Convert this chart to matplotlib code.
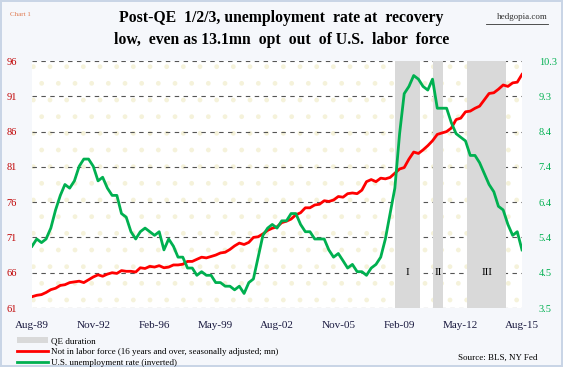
import numpy as np
import pandas as pd
import matplotlib
matplotlib.use("Agg")
import matplotlib.pyplot as plt
import matplotlib.dates as mdates
from matplotlib.patches import Rectangle, Patch
from matplotlib.lines import Line2D

# quarterly points, Aug-89 .. Aug-15 (Aug, Nov, Feb, May)
dates = pd.date_range("1989-08-01", "2015-08-01", freq="3MS")

not_in_lf = [62.6, 62.8,
             62.9, 63.2, 63.6, 63.8,
             64.2, 64.3, 64.6, 64.7,
             64.8, 64.6, 65.0, 65.4,
             65.7, 65.5, 65.8, 66.0,
             65.9, 66.3, 66.2, 66.2,
             66.1, 66.7, 66.6, 66.9,
             66.8, 67.0, 66.7, 66.8,
             67.1, 67.1, 67.2, 67.6,
             67.6, 67.9, 68.2, 68.1,
             68.3, 68.5, 68.8, 68.9,
             69.3, 69.8, 70.2, 70.0,
             70.3, 71.0, 71.1, 71.5,
             72.0, 72.3, 72.5, 73.1,
             73.3, 73.6, 74.2, 74.5,
             75.2, 75.2, 75.6, 75.7,
             76.2, 76.1, 76.3, 76.8,
             76.7, 77.2, 77.3, 77.2,
             77.7, 78.9, 79.2, 78.9,
             79.4, 79.3, 79.5, 80.1,
             80.7, 80.9, 82.1, 83.1,
             82.9, 83.4, 84.0, 84.7,
             85.6, 85.8, 86.0, 86.5,
             87.7, 87.9, 88.8, 88.9,
             89.3, 89.6, 90.5, 91.4,
             91.5, 92.0, 92.6, 92.4,
             92.9, 93.0, 94.1]

unemp = [5.2, 5.4,
         5.3, 5.4, 5.7, 6.2,
         6.6, 6.9, 6.8, 7.0,
         7.4, 7.6, 7.6, 7.4,
         7.0, 7.1, 6.8, 6.6,
         6.6, 6.1, 6.0, 5.6,
         5.4, 5.6, 5.7, 5.6,
         5.5, 5.6, 5.1, 5.4,
         5.2, 4.9, 4.9, 4.6,
         4.6, 4.4, 4.5, 4.4,
         4.4, 4.2, 4.2, 4.1,
         4.1, 4.0, 4.1, 3.9,
         4.2, 4.3, 4.9, 5.5,
         5.7, 5.8, 5.7, 5.9,
         5.9, 6.1, 6.1, 5.8,
         5.6, 5.6, 5.4, 5.4,
         5.4, 5.1, 4.9, 5.0,
         4.8, 4.6, 4.7, 4.5,
         4.5, 4.4, 4.6, 4.7,
         4.9, 5.4, 6.1, 6.8,
         8.3, 9.4, 9.6, 9.9,
         9.8, 9.6, 9.5, 9.8,
         9.0, 9.0, 9.0, 8.6,
         8.3, 8.2, 8.1, 7.7,
         7.7, 7.5, 7.2, 6.9,
         6.7, 6.3, 6.2, 5.8,
         5.5, 5.6, 5.1]

qe_start = ["2008-11-01", "2010-11-01", "2012-09-01"]
qe_end = ["2010-03-01", "2011-06-01", "2014-10-01"]
qe_names = ["I", "II", "III"]

left_ticks = [61, 66, 71, 76, 81, 86, 91, 96]
right_ticks = np.linspace(3.5, 10.3, 8)

RED = "#ff0000"
GREEN = "#00b050"
SERIF = "Liberation Serif"

fig = plt.figure(figsize=(5.63, 3.67), dpi=100, facecolor="#f5f7fb")
fig.patch.set_edgecolor("#c9d5e6")
fig.patch.set_linewidth(1.5)

ax = fig.add_axes([32 / 563, 59 / 367, 490 / 563, 247 / 367])
ax.set_facecolor("white")
ax.add_patch(Rectangle((0, 0), 1, 1, transform=ax.transAxes, facecolor="none",
                       hatch=".", edgecolor="#f5f2da", lw=0, zorder=0))

for s, e in zip(qe_start, qe_end):
    ax.axvspan(pd.Timestamp(s), pd.Timestamp(e), color="#d9d9d9", lw=0, zorder=1)
for s, e, n in zip(qe_start, qe_end, qe_names):
    mid = pd.Timestamp(s) + (pd.Timestamp(e) - pd.Timestamp(s)) / 2
    ax.text(mid, 66.1, n, ha="center", va="center", fontsize=8, family=SERIF, zorder=2)

ax.plot(dates, not_in_lf, color=RED, lw=2, zorder=3)
ax.set_ylim(61, 96)
ax.set_yticks(left_ticks)
ax.set_xlim(dates[0], dates[-1])
ax.set_xticks(dates[::13])
ax.xaxis.set_major_formatter(mdates.DateFormatter("%b-%y"))
ax.grid(axis="y", color="#555555", ls=(0, (4, 4)), lw=0.8, zorder=0.5)
ax.set_axisbelow(True)
ax.tick_params(axis="y", length=0, pad=11, labelsize=7.5, labelcolor="#c00000")
ax.tick_params(axis="x", length=0, pad=9, labelsize=8, labelcolor="#1a1a40")
for lab in ax.get_xticklabels() + ax.get_yticklabels():
    lab.set_family(SERIF)
for sp in ax.spines.values():
    sp.set_visible(False)

ax2 = ax.twinx()
ax2.plot(dates, unemp, color=GREEN, lw=2, zorder=3)
ax2.set_ylim(3.5, 10.3)
ax2.set_yticks(right_ticks)
ax2.set_yticklabels([f"{v:.1f}" for v in right_ticks])
ax2.tick_params(axis="y", length=0, pad=12, labelsize=7.5, labelcolor=GREEN)
for lab in ax2.get_yticklabels():
    lab.set_family(SERIF)
for sp in ax2.spines.values():
    sp.set_visible(False)

fig.text(0.5, 0.952, "Post-QE  1/2/3, unemployment  rate at  recovery",
         ha="center", va="center", fontsize=11.3, fontweight="bold", family=SERIF)
fig.text(0.5, 0.890, "low,  even as 13.1mn  opt  out  of U.S.  labor  force",
         ha="center", va="center", fontsize=11.3, fontweight="bold", family=SERIF)
fig.text(10 / 563, 0.96, "Chart 1", fontsize=5, color="#e07a50", family=SERIF, va="center")
fig.text(548 / 563, 0.953, "hedgopia.com", fontsize=6.5, color="#333333", family=SERIF,
         ha="right", va="center")
fig.add_artist(Line2D([486 / 563, 548 / 563], [0.935, 0.935], color="#333333", lw=0.6))

handles = [Patch(facecolor="#d9d9d9", edgecolor="none"),
           Line2D([], [], color=RED, lw=2),
           Line2D([], [], color=GREEN, lw=2)]
labels = ["QE duration",
          "Not in labor force (16 years and over, seasonally adjusted; mn)",
          "U.S. unemployment rate (inverted)"]
fig.legend(handles, labels, loc="upper left", bbox_to_anchor=(12 / 563, 35 / 367),
           frameon=False, prop={"family": SERIF, "size": 6.5}, handlelength=3.4,
           handleheight=0.6, labelspacing=0.3, handletextpad=0.3, borderpad=0.1)
fig.text(538 / 563, 1 - 358 / 367, "Source: BLS, NY Fed", fontsize=6.5, family=SERIF,
         ha="right", va="center")

fig.savefig("out.png", dpi=100, facecolor=fig.get_facecolor(), edgecolor=fig.patch.get_edgecolor())
